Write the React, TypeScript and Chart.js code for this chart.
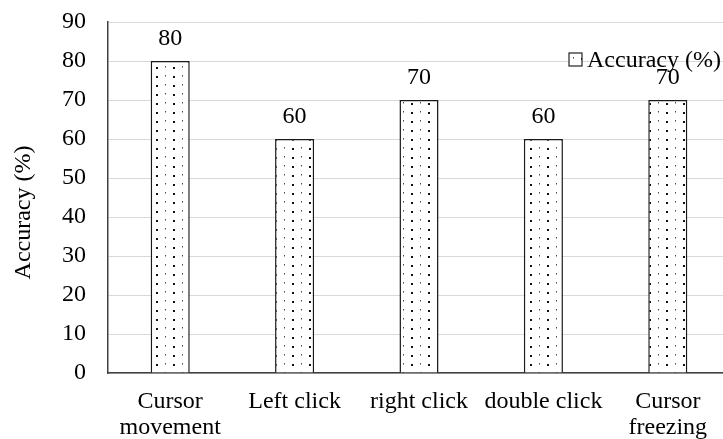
import React, { useEffect, useRef } from "react";
import { Chart, registerables } from "chart.js";

Chart.register(...registerables);

const categories: (string | string[])[] = [
  ["Cursor", "movement"],
  "Left click",
  "right click",
  "double click",
  ["Cursor", "freezing"],
];
const accuracy = [80, 60, 70, 60, 70];
const seriesLabel = "Accuracy (%)";
const yAxisTitle = "Accuracy (%)";
const yMin = 0;
const yMax = 90;
const yStep = 10;

const FONT = '"Liberation Serif", "Times New Roman", serif';

function makePattern(): CanvasPattern | string {
  const c = document.createElement("canvas");
  c.width = 17;
  c.height = 9;
  const g = c.getContext("2d");
  if (!g) return "#fff";
  g.fillStyle = "#ffffff";
  g.fillRect(0, 0, 17, 9);
  g.fillStyle = "#111111";
  g.fillRect(3, 4, 2, 2);
  g.fillStyle = "#444444";
  g.fillRect(12, 3, 1, 1.5);
  const ctx = document.createElement("canvas").getContext("2d");
  const p = ctx ? ctx.createPattern(c, "repeat") : null;
  return p || "#fff";
}

export default function App() {
  const ref = useRef<HTMLCanvasElement>(null);

  useEffect(() => {
    if (!ref.current) return;
    const pattern = makePattern();

    const overlay = {
      id: "overlay",
      afterDatasetsDraw(chart: any) {
        const ctx = chart.ctx;
        const area = chart.chartArea;
        ctx.save();
        // y-axis title
        ctx.save();
        ctx.translate(24, (area.top + area.bottom) / 2 + 15);
        ctx.rotate(-Math.PI / 2);
        ctx.fillStyle = "#000";
        ctx.font = `24px ${FONT}`;
        ctx.textAlign = "center";
        ctx.textBaseline = "middle";
        ctx.fillText(yAxisTitle, 0, 0);
        ctx.restore();
        // legend
        const bx = area.right - 161;
        const by = area.top + 31;
        ctx.fillStyle = pattern as any;
        ctx.fillRect(bx, by, 13, 13);
        ctx.strokeStyle = "#222";
        ctx.lineWidth = 1.2;
        ctx.strokeRect(bx, by, 13, 13);
        ctx.fillStyle = "#000";
        ctx.font = `24px ${FONT}`;
        ctx.textAlign = "left";
        ctx.textBaseline = "alphabetic";
        ctx.fillText(chart.data.datasets[0].label, bx + 18, area.top + 45);
        // data labels
        const meta = chart.getDatasetMeta(0);
        ctx.font = `24px ${FONT}`;
        ctx.textAlign = "center";
        ctx.textBaseline = "alphabetic";
        meta.data.forEach((bar: any, i: number) => {
          ctx.fillText(String(chart.data.datasets[0].data[i]), bar.x, bar.y - 16);
        });
        ctx.restore();
      },
    };

    const chart = new Chart(ref.current, {
      type: "bar",
      data: {
        labels: categories,
        datasets: [
          {
            label: seriesLabel,
            data: accuracy,
            backgroundColor: pattern as any,
            borderColor: "#1a1a1a",
            borderWidth: 1.5,
            categoryPercentage: 1,
            barPercentage: 0.314,
          },
        ],
      },
      options: {
        responsive: false,
        animation: false,
        devicePixelRatio: 1,
        layout: { padding: { top: 22, right: 10, bottom: 0, left: 0 } },
        plugins: {
          legend: { display: false },
          tooltip: { enabled: false },
        },
        scales: {
          x: {
            grid: { display: false, drawTicks: false },
            border: { display: true, color: "#404040", width: 1.5 },
            ticks: {
              color: "#000",
              font: { family: FONT, size: 24, lineHeight: 1.08 },
              padding: 16,
              maxRotation: 0,
              minRotation: 0,
              autoSkip: false,
            },
            afterFit(scale: any) {
              scale.height = 66;
              scale.paddingLeft = 0;
              scale.paddingRight = 0;
            },
          },
          y: {
            min: yMin,
            max: yMax,
            grid: { color: "#d9d9d9", lineWidth: 1, drawTicks: false },
            border: { display: true, color: "#404040", width: 1.5 },
            ticks: {
              stepSize: yStep,
              color: "#000",
              font: { family: FONT, size: 24 },
              padding: 22,
            },
            afterFit(scale: any) {
              scale.width = 108;
              scale.paddingTop = 0;
              scale.paddingBottom = 0;
            },
          },
        },
      },
      plugins: [overlay],
    });
    return () => chart.destroy();
  }, []);

  return (
    <div
      style={{
        position: "fixed",
        left: 0,
        top: 0,
        width: 723,
        height: 439,
        overflow: "hidden",
        background: "#fff",
      }}
    >
      <canvas ref={ref} width={740} height={439} style={{ display: "block" }} />
    </div>
  );
}
